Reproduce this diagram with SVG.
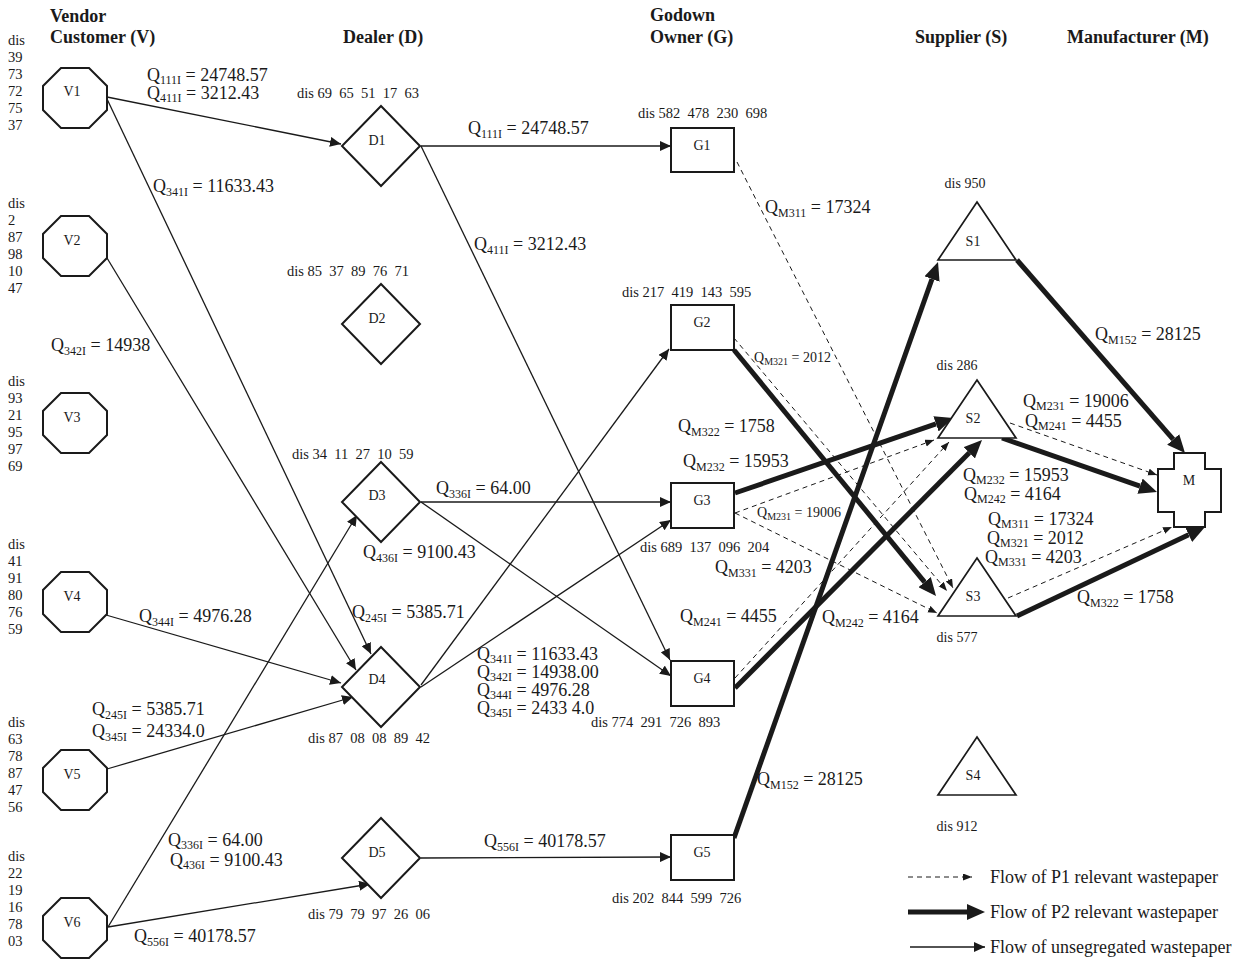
<svg xmlns="http://www.w3.org/2000/svg" xmlns:xlink="http://www.w3.org/1999/xlink" width="1256" height="961" viewBox="0 0 1256 961">
<style>
text{font-family:"Liberation Serif","Times New Roman",serif;fill:#1a1a1a}
.hd{font-size:18px;font-weight:bold}
.dis{font-size:14.5px;white-space:pre}
.lab{font-size:14px;text-anchor:middle}
.q{font-size:18px;white-space:pre}
.qs{font-size:14px;white-space:pre}
.s{font-size:12px}
.ss{font-size:10px}
.leg{font-size:18px}
.thin{stroke:#1a1a1a;stroke-width:1.3;fill:none;marker-end:url(#ah)}
.dash{stroke:#1a1a1a;stroke-width:1;stroke-dasharray:5 4;fill:none;marker-end:url(#ahd)}
.thick{stroke:#1a1a1a;stroke-width:5;fill:none;marker-end:url(#aht)}
.nd{fill:#fff;stroke:#1a1a1a;stroke-width:2}
.tri{fill:#fff;stroke:#1a1a1a;stroke-width:1.7}
</style>
<defs>
<marker id="ah" markerUnits="userSpaceOnUse" markerWidth="12" markerHeight="10" refX="11" refY="5" orient="auto"><path d="M0,0 L11,5 L0,10 z" fill="#1a1a1a" stroke="none"/></marker>
<marker id="ahd" markerUnits="userSpaceOnUse" markerWidth="10" markerHeight="8" refX="9" refY="3.5" orient="auto"><path d="M0,0 L9,3.5 L0,7 z" fill="#1a1a1a" stroke="none"/></marker>
<marker id="aht" markerUnits="userSpaceOnUse" markerWidth="20" markerHeight="16" refX="0" refY="8" orient="auto"><path d="M0,0 L18,8 L0,16 z" fill="#1a1a1a" stroke="none"/></marker>
<polygon id="oct" points="-14,-30 14,-30 32,-12 32,12 14,30 -14,30 -32,12 -32,-12"/>
<polygon id="dia" points="0,-40 39,0 0,40 -39,0"/>
<polygon id="tr" points="0,-29 39,29 -39,29"/>
</defs>
<rect width="1256" height="961" fill="#fff"/>

<g id="headers">
<text class="hd" x="50" y="22">Vendor</text>
<text class="hd" x="50" y="43">Customer (V)</text>
<text class="hd" x="343" y="43">Dealer (D)</text>
<text class="hd" x="650" y="21">Godown</text>
<text class="hd" x="650" y="43">Owner (G)</text>
<text class="hd" x="915" y="43">Supplier (S)</text>
<text class="hd" x="1067" y="43">Manufacturer (M)</text>
</g>

<g id="connectors">
<path class="thin" d="M107,97 L341,144"/>
<path class="thin" d="M107,99 L371,654"/>
<path class="thin" d="M107,258 L356,670"/>
<path class="thin" d="M106,615 L341,683"/>
<path class="thin" d="M107,769 L353,697"/>
<path class="thin" d="M108,927 L357,515"/>
<path class="thin" d="M108,927 L370,884"/>
<path class="thin" d="M421,146 L671,146"/>
<path class="thin" d="M421,146 L670,660"/>
<path class="thin" d="M421,502 L671,502"/>
<path class="thin" d="M421,502 L671,676"/>
<path class="thin" d="M421,685 L669,349"/>
<path class="thin" d="M421,687 L671,520"/>
<path class="thin" d="M421,858 L671,857"/>
<path class="dash" d="M737,162 L953,588"/>
<path class="dash" d="M734,338 L947,591"/>
<path class="dash" d="M735,513 L937,613"/>
<path class="dash" d="M735,513 L934,440"/>
<path class="dash" d="M735,678 L949,442"/>
<path class="dash" d="M1010,423 L1157,475"/>
<path class="dash" d="M1008,598 L1172,527"/>
<path class="thick" d="M734,350 L924.6,582.1"/>
<path class="thick" d="M735,493 L936,423.9"/>
<path class="thick" d="M735,688 L969.3,452.8"/>
<path class="thick" d="M734,838 L932,279"/>
<path class="thick" d="M1017,260 L1173.2,439.4"/>
<path class="thick" d="M1002,438 L1140,486.1"/>
<path class="thick" d="M1017,616 L1188.7,534.7"/>
</g>

<g id="V1"><use href="#oct" x="75" y="98" class="nd"/><text class="lab" x="72" y="96">V1</text>
<text class="dis" x="8" y="45">dis<tspan x="8" dy="17">39</tspan><tspan x="8" dy="17">73</tspan><tspan x="8" dy="17">72</tspan><tspan x="8" dy="17">75</tspan><tspan x="8" dy="17">37</tspan></text></g>
<g id="V2"><use href="#oct" x="75" y="246" class="nd"/><text class="lab" x="72" y="245">V2</text>
<text class="dis" x="8" y="208">dis<tspan x="8" dy="17">2</tspan><tspan x="8" dy="17">87</tspan><tspan x="8" dy="17">98</tspan><tspan x="8" dy="17">10</tspan><tspan x="8" dy="17">47</tspan></text></g>
<g id="V3"><use href="#oct" x="75" y="423" class="nd"/><text class="lab" x="72" y="422">V3</text>
<text class="dis" x="8" y="386">dis<tspan x="8" dy="17">93</tspan><tspan x="8" dy="17">21</tspan><tspan x="8" dy="17">95</tspan><tspan x="8" dy="17">97</tspan><tspan x="8" dy="17">69</tspan></text></g>
<g id="V4"><use href="#oct" x="75" y="602" class="nd"/><text class="lab" x="72" y="601">V4</text>
<text class="dis" x="8" y="549">dis<tspan x="8" dy="17">41</tspan><tspan x="8" dy="17">91</tspan><tspan x="8" dy="17">80</tspan><tspan x="8" dy="17">76</tspan><tspan x="8" dy="17">59</tspan></text></g>
<g id="V5"><use href="#oct" x="75" y="780" class="nd"/><text class="lab" x="72" y="779">V5</text>
<text class="dis" x="8" y="727">dis<tspan x="8" dy="17">63</tspan><tspan x="8" dy="17">78</tspan><tspan x="8" dy="17">87</tspan><tspan x="8" dy="17">47</tspan><tspan x="8" dy="17">56</tspan></text></g>
<g id="V6"><use href="#oct" x="75" y="928" class="nd"/><text class="lab" x="72" y="927">V6</text>
<text class="dis" x="8" y="861">dis<tspan x="8" dy="17">22</tspan><tspan x="8" dy="17">19</tspan><tspan x="8" dy="17">16</tspan><tspan x="8" dy="17">78</tspan><tspan x="8" dy="17">03</tspan></text></g>

<g id="D1"><use href="#dia" x="381" y="146" class="nd"/><text class="lab" x="377" y="145">D1</text><text class="dis" x="297" y="98">dis 69  65  51  17  63</text></g>
<g id="D2"><use href="#dia" x="381" y="324" class="nd"/><text class="lab" x="377" y="323">D2</text><text class="dis" x="287" y="276">dis 85  37  89  76  71</text></g>
<g id="D3"><use href="#dia" x="381" y="502" class="nd"/><text class="lab" x="377" y="500">D3</text><text class="dis" x="292" y="459">dis 34  11  27  10  59</text></g>
<g id="D4"><use href="#dia" x="381" y="687" class="nd"/><text class="lab" x="377" y="684">D4</text><text class="dis" x="308" y="743">dis 87  08  08  89  42</text></g>
<g id="D5"><use href="#dia" x="381" y="858" class="nd"/><text class="lab" x="377" y="857">D5</text><text class="dis" x="308" y="919">dis 79  79  97  26  06</text></g>

<g id="G1"><rect class="nd" x="671" y="128" width="63" height="44"/><text class="lab" x="702" y="150">G1</text><text class="dis" x="638" y="118">dis 582  478  230  698</text></g>
<g id="G2"><rect class="nd" x="671" y="305" width="63" height="45"/><text class="lab" x="702" y="327">G2</text><text class="dis" x="622" y="297">dis 217  419  143  595</text></g>
<g id="G3"><rect class="nd" x="671" y="483" width="63" height="45"/><text class="lab" x="702" y="505">G3</text><text class="dis" x="640" y="552">dis 689  137  096  204</text></g>
<g id="G4"><rect class="nd" x="671" y="661" width="63" height="45"/><text class="lab" x="702" y="683">G4</text><text class="dis" x="591" y="727">dis 774  291  726  893</text></g>
<g id="G5"><rect class="nd" x="671" y="835" width="63" height="45"/><text class="lab" x="702" y="857">G5</text><text class="dis" x="612" y="903">dis 202  844  599  726</text></g>

<g id="S1"><use href="#tr" x="977" y="231" class="tri"/><text class="lab" x="973" y="246">S1</text><text class="lab" x="965" y="188">dis 950</text></g>
<g id="S2"><use href="#tr" x="977" y="409" class="tri"/><text class="lab" x="973" y="423">S2</text><text class="lab" x="957" y="370">dis 286</text></g>
<g id="S3"><use href="#tr" x="977" y="587" class="tri"/><text class="lab" x="973" y="601">S3</text><text class="lab" x="957" y="642">dis 577</text></g>
<g id="S4"><use href="#tr" x="977" y="766" class="tri"/><text class="lab" x="973" y="780">S4</text><text class="lab" x="957" y="831">dis 912</text></g>

<g id="M"><polygon class="nd" points="1174,453 1205,453 1205,469 1221,469 1221,512 1205,512 1205,527 1174,527 1174,512 1158,512 1158,469 1174,469"/><text class="lab" x="1189" y="485">M</text></g>

<g id="flow-labels">
<text class="q" x="147" y="81">Q<tspan class="s" dy="3">111I</tspan><tspan dy="-3"> = 24748.57</tspan></text>
<text class="q" x="147" y="99">Q<tspan class="s" dy="3">411I</tspan><tspan dy="-3"> = 3212.43</tspan></text>
<text class="q" x="153" y="192">Q<tspan class="s" dy="4">341I</tspan><tspan dy="-4"> = 11633.43</tspan></text>
<text class="q" x="468" y="134">Q<tspan class="s" dy="4">111I</tspan><tspan dy="-4"> = 24748.57</tspan></text>
<text class="q" x="474" y="250">Q<tspan class="s" dy="4">411I</tspan><tspan dy="-4"> = 3212.43</tspan></text>
<text class="q" x="51" y="351">Q<tspan class="s" dy="4">342I</tspan><tspan dy="-4"> = 14938</tspan></text>
<text class="q" x="436" y="494">Q<tspan class="s" dy="4">336I</tspan><tspan dy="-4"> = 64.00</tspan></text>
<text class="q" x="363" y="558">Q<tspan class="s" dy="4">436I</tspan><tspan dy="-4"> = 9100.43</tspan></text>
<text class="q" x="352" y="618">Q<tspan class="s" dy="4">245I</tspan><tspan dy="-4"> = 5385.71</tspan></text>
<text class="q" x="477" y="660">Q<tspan class="s" dy="3">341I</tspan><tspan dy="-3"> = 11633.43</tspan></text>
<text class="q" x="477" y="678">Q<tspan class="s" dy="3">342I</tspan><tspan dy="-3"> = 14938.00</tspan></text>
<text class="q" x="477" y="696">Q<tspan class="s" dy="3">344I</tspan><tspan dy="-3"> = 4976.28</tspan></text>
<text class="q" x="477" y="714">Q<tspan class="s" dy="3">345I</tspan><tspan dy="-3"> = 2433 4.0</tspan></text>
<text class="q" x="139" y="622">Q<tspan class="s" dy="4">344I</tspan><tspan dy="-4"> = 4976.28</tspan></text>
<text class="q" x="92" y="715">Q<tspan class="s" dy="4">245I</tspan><tspan dy="-4"> = 5385.71</tspan></text>
<text class="q" x="92" y="737">Q<tspan class="s" dy="4">345I</tspan><tspan dy="-4"> = 24334.0</tspan></text>
<text class="q" x="168" y="846">Q<tspan class="s" dy="3">336I</tspan><tspan dy="-3"> = 64.00</tspan></text>
<text class="q" x="170" y="866">Q<tspan class="s" dy="3">436I</tspan><tspan dy="-3"> = 9100.43</tspan></text>
<text class="q" x="134" y="942">Q<tspan class="s" dy="4">556I</tspan><tspan dy="-4"> = 40178.57</tspan></text>
<text class="q" x="484" y="847">Q<tspan class="s" dy="4">556I</tspan><tspan dy="-4"> = 40178.57</tspan></text>
<text class="q" x="765" y="213">Q<tspan class="s" dy="4">M311</tspan><tspan dy="-4"> = 17324</tspan></text>
<text class="qs" x="754" y="362">Q<tspan class="ss" dy="3">M321</tspan><tspan dy="-3"> = 2012</tspan></text>
<text class="q" x="678" y="432">Q<tspan class="s" dy="4">M322</tspan><tspan dy="-4"> = 1758</tspan></text>
<text class="q" x="683" y="467">Q<tspan class="s" dy="4">M232</tspan><tspan dy="-4"> = 15953</tspan></text>
<text class="qs" x="757" y="517">Q<tspan class="ss" dy="3">M231</tspan><tspan dy="-3"> = 19006</tspan></text>
<text class="q" x="715" y="573">Q<tspan class="s" dy="4">M331</tspan><tspan dy="-4"> = 4203</tspan></text>
<text class="q" x="680" y="622">Q<tspan class="s" dy="4">M241</tspan><tspan dy="-4"> = 4455</tspan></text>
<text class="q" x="822" y="623">Q<tspan class="s" dy="4">M242</tspan><tspan dy="-4"> = 4164</tspan></text>
<text class="q" x="757" y="785">Q<tspan class="s" dy="4">M152</tspan><tspan dy="-4"> = 28125</tspan></text>
<text class="q" x="1095" y="340">Q<tspan class="s" dy="4">M152</tspan><tspan dy="-4"> = 28125</tspan></text>
<text class="q" x="1023" y="407">Q<tspan class="s" dy="3">M231</tspan><tspan dy="-3"> = 19006</tspan></text>
<text class="q" x="1025" y="427">Q<tspan class="s" dy="3">M241</tspan><tspan dy="-3"> = 4455</tspan></text>
<text class="q" x="963" y="481">Q<tspan class="s" dy="3">M232</tspan><tspan dy="-3"> = 15953</tspan></text>
<text class="q" x="964" y="500">Q<tspan class="s" dy="3">M242</tspan><tspan dy="-3"> = 4164</tspan></text>
<text class="q" x="988" y="525">Q<tspan class="s" dy="3">M311</tspan><tspan dy="-3"> = 17324</tspan></text>
<text class="q" x="987" y="544">Q<tspan class="s" dy="3">M321</tspan><tspan dy="-3"> = 2012</tspan></text>
<text class="q" x="985" y="563">Q<tspan class="s" dy="3">M331</tspan><tspan dy="-3"> = 4203</tspan></text>
<text class="q" x="1077" y="603">Q<tspan class="s" dy="4">M322</tspan><tspan dy="-4"> = 1758</tspan></text>
</g>

<g id="legend">
<path class="dash" d="M908,877 L972,877"/>
<text class="leg" x="990" y="883">Flow of P1 relevant wastepaper</text>
<path class="thick" d="M908,912 L967,912"/>
<text class="leg" x="990" y="918">Flow of P2 relevant wastepaper</text>
<path class="thin" d="M910,947 L985,947"/>
<text class="leg" x="990" y="953">Flow of unsegregated wastepaper</text>
</g>
</svg>
